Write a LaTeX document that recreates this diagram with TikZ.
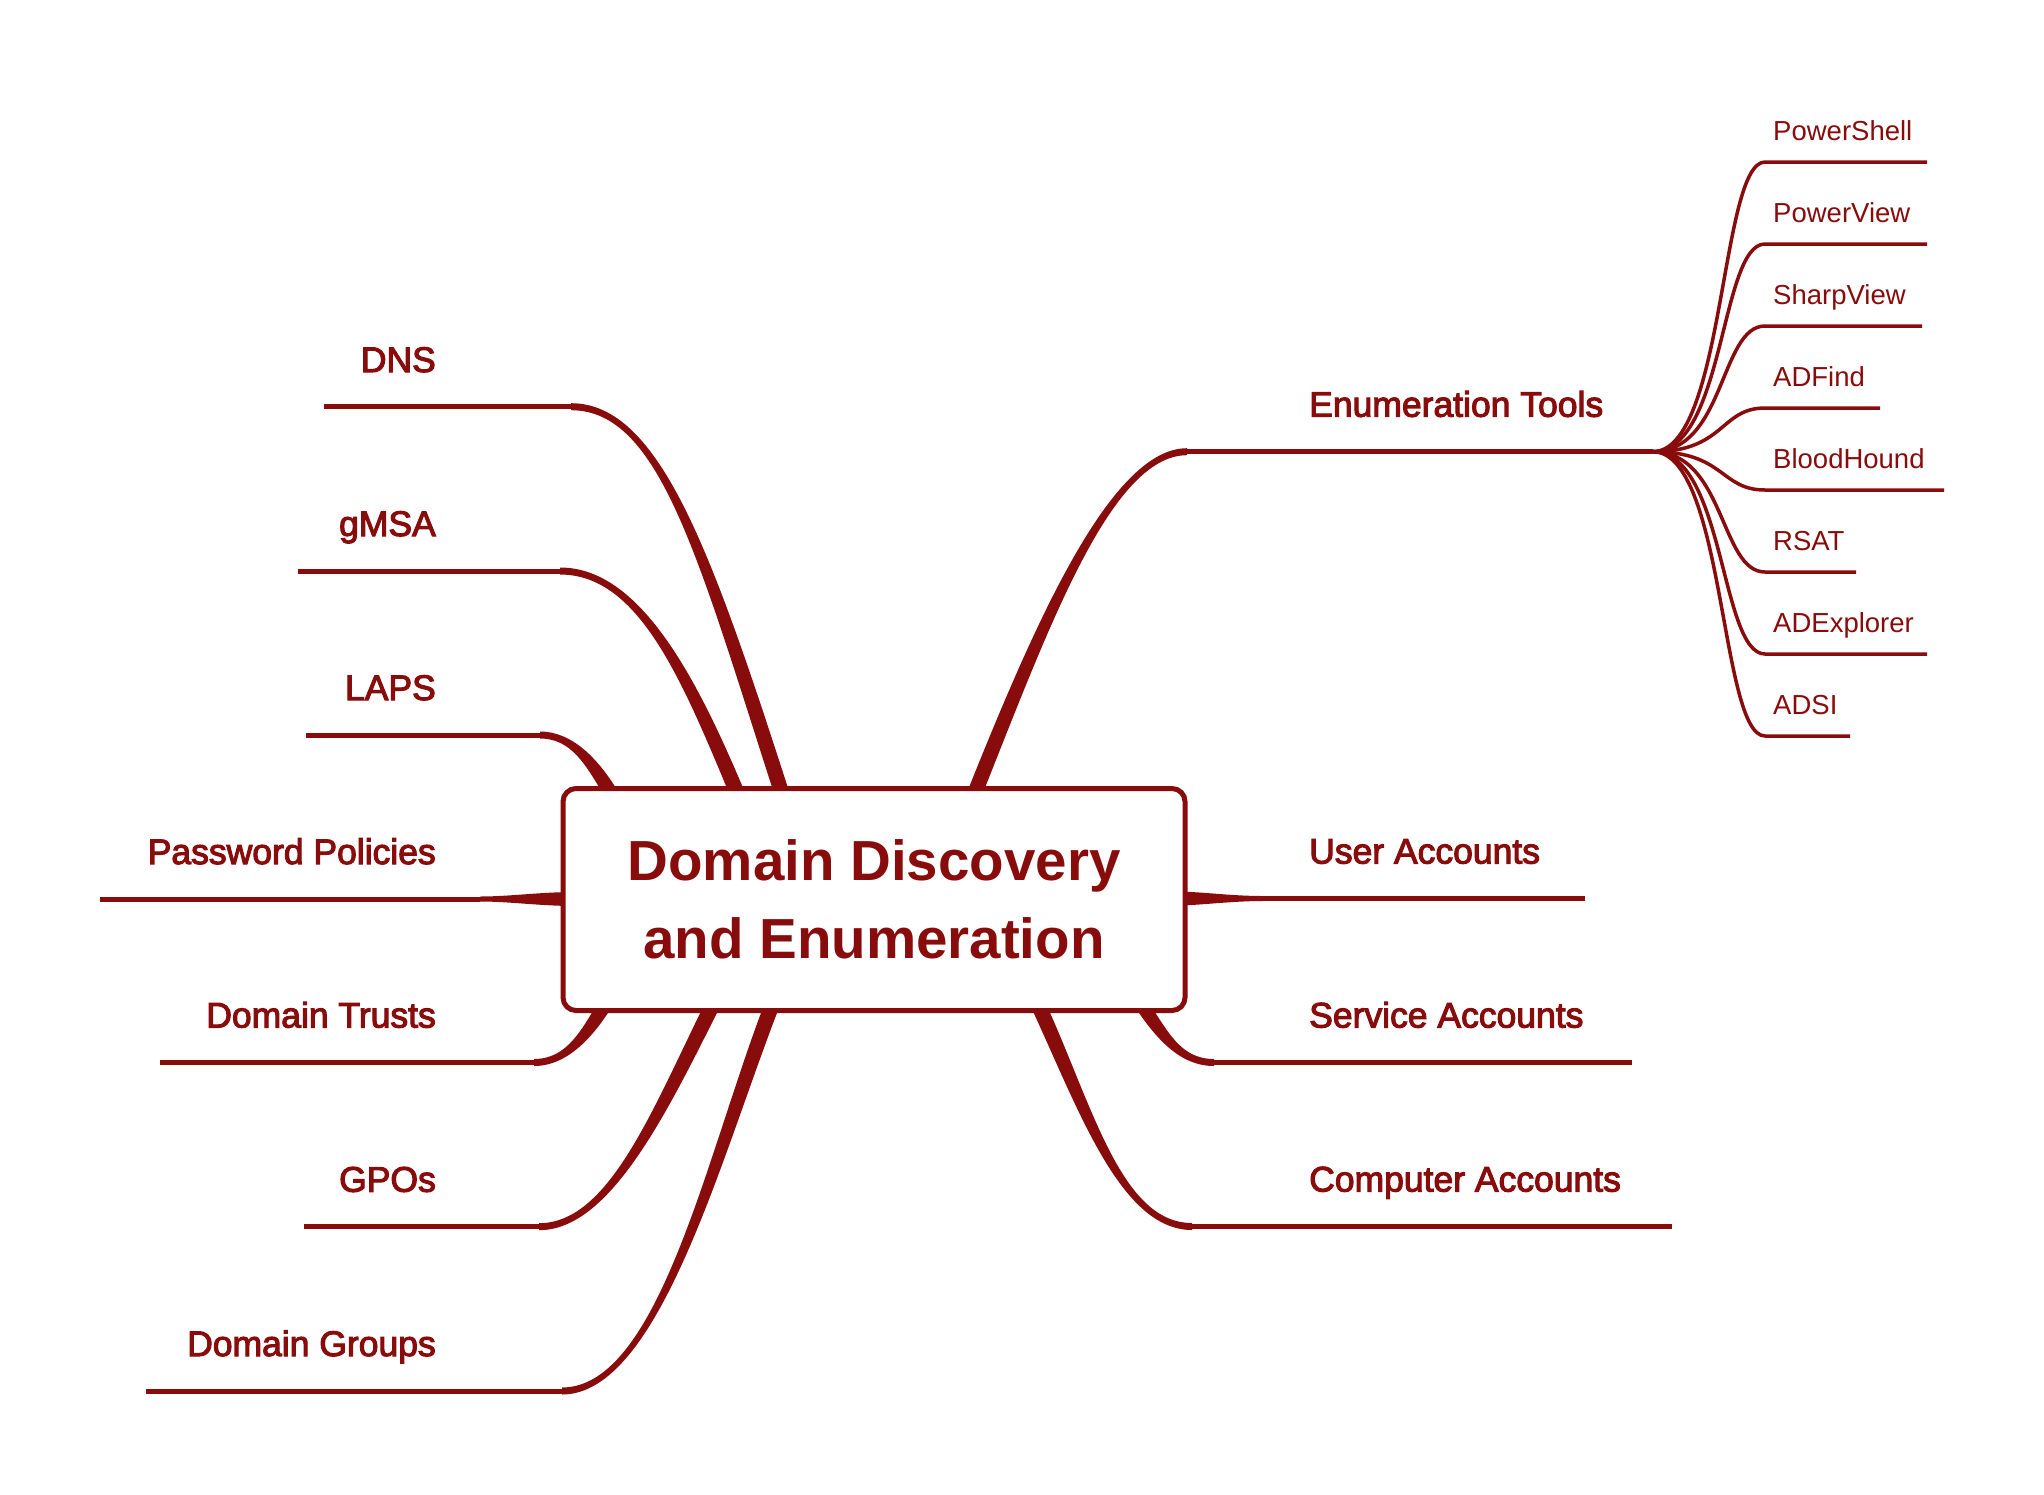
\documentclass[tikz,border=0pt]{standalone}
\usepackage{fontspec}
\setmainfont{Liberation Sans}
\newfontfamily\medfont{Liberation Sans}[FakeBold=3]
\usetikzlibrary{calc,backgrounds}
\definecolor{brc}{RGB}{137,12,12}
\tikzset{
  mainlbl/.style={text=brc, font=\medfont\fontsize{35.5}{42}\selectfont, inner sep=0},
  sublbl/.style={text=brc, font=\fontsize{27.5}{33}\selectfont, inner sep=0},
  mainline/.style={draw=brc, line width=5},
  subline/.style={draw=brc, line width=3.5, line join=round},
  rootbox/.style={draw=brc, line width=5, fill=white, rounded corners=13,
    minimum width=622, minimum height=222, inner sep=0, align=center, text=brc,
    font=\bfseries\fontsize{56.5}{78}\selectfont},
}
% tapered branch: #1 start, #2 control 1, #3 control 2, #4 end, #5 half width at start, #6 half width at end
\newcommand\taper[6]{%
  \fill[brc] ($(#1)!#5!90:(#2)$) .. controls ($(#2)!#5!-90:(#1)$) and ($(#3)!#6!90:(#4)$) .. ($(#4)!#6!-90:(#3)$)
    -- ($(#4)!#6!90:(#3)$) .. controls ($(#3)!#6!-90:(#4)$) and ($(#2)!#5!90:(#1)$) .. ($(#1)!#5!-90:(#2)$) -- cycle;}
\begin{document}
\begin{tikzpicture}[x=1pt,y=-1pt]
\useasboundingbox (0,0) rectangle (2044,1494);
% central topic
\node[rootbox] (root) at (874,899.5) {Domain Discovery\\and Enumeration};
% left branch coordinates
\coordinate (dnsL) at (323.5,406.7); \coordinate (dnsA) at (571,406.7); \coordinate (dnsP) at (784,800);
\coordinate (gmsaL) at (297.5,571); \coordinate (gmsaA) at (560,571); \coordinate (gmsaP) at (740,800);
\coordinate (lapsL) at (306,735); \coordinate (lapsA) at (540,735); \coordinate (lapsP) at (612,795);
\coordinate (ppL) at (100,899); \coordinate (ppA) at (480,899); \coordinate (ppP) at (575,899);
\coordinate (dtL) at (160,1062.5); \coordinate (dtA) at (534,1062.5); \coordinate (dtP) at (606,1003);
\coordinate (gpoL) at (304,1226.7); \coordinate (gpoA) at (539,1226.7); \coordinate (gpoP) at (715,1000);
\coordinate (dgL) at (146,1391); \coordinate (dgA) at (562,1391); \coordinate (dgP) at (774,1000);
% right branch coordinates
\coordinate (etA) at (1187,451.7); \coordinate (etR) at (1652.7,451.7); \coordinate (etP) at (972,800);
\coordinate (uaA) at (1263,898.5); \coordinate (uaR) at (1585,898.5); \coordinate (uaP) at (1175,898.5);
\coordinate (saA) at (1214,1062.5); \coordinate (saR) at (1631.7,1062.5); \coordinate (saP) at (1140,1002);
\coordinate (caA) at (1192,1226.5); \coordinate (caR) at (1672,1226.5); \coordinate (caP) at (1036,1000);
% labels
\node[mainlbl, anchor=base east] (dns) at (436,372) {DNS};
\node[mainlbl, anchor=base east] (gmsa) at (436,536) {gMSA};
\node[mainlbl, anchor=base east] (laps) at (436,700) {LAPS};
\node[mainlbl, anchor=base east] (pp) at (436,864) {Password Policies};
\node[mainlbl, anchor=base east] (dt) at (436,1027.5) {Domain Trusts};
\node[mainlbl, anchor=base east] (gpo) at (436,1191.7) {GPOs};
\node[mainlbl, anchor=base east] (dg) at (436,1356) {Domain Groups};
\node[mainlbl, anchor=base west] (et) at (1309,416.7) {Enumeration Tools};
\node[mainlbl, anchor=base west] (ua) at (1309,863.5) {User Accounts};
\node[mainlbl, anchor=base west] (sa) at (1309,1027.5) {Service Accounts};
\node[mainlbl, anchor=base west] (ca) at (1309,1191.5) {Computer Accounts};
\begin{pgfonlayer}{background}
\fill[white] (0,0) rectangle (2044,1494);
% left branches
\draw[mainline] (dnsL) -- (dnsA);  \taper{dnsA}{660,406.7}{705,555}{dnsP}{3.5pt}{7.5pt}
\draw[mainline] (gmsaL) -- (gmsaA); \taper{gmsaA}{640,571}{690,680}{gmsaP}{3.5pt}{7.5pt}
\draw[mainline] (lapsL) -- (lapsA); \taper{lapsA}{572,735}{592,762}{lapsP}{3.5pt}{7pt}
\draw[mainline] (ppL) -- (ppA);     \taper{ppA}{510,899}{540,899}{ppP}{2.5pt}{7pt}
\draw[mainline] (dtL) -- (dtA);     \taper{dtA}{568,1062.5}{588,1032}{dtP}{3.5pt}{7pt}
\draw[mainline] (gpoL) -- (gpoA);   \taper{gpoA}{610,1226.7}{660,1110}{gpoP}{3.5pt}{7.5pt}
\draw[mainline] (dgL) -- (dgA);     \taper{dgA}{660,1391}{715,1150}{dgP}{3.5pt}{7.5pt}
% right branches
\draw[mainline] (etA) -- (etR);     \taper{etA}{1110,451.7}{1040,630}{etP}{3.5pt}{7.5pt}
\draw[mainline] (uaA) -- (uaR);     \taper{uaA}{1230,898.5}{1200,898.5}{uaP}{2.5pt}{7pt}
\draw[mainline] (saA) -- (saR);     \taper{saA}{1180,1062.5}{1162,1035}{saP}{3.5pt}{7pt}
\draw[mainline] (caA) -- (caR);     \taper{caA}{1120,1226.5}{1085,1105}{caP}{3.5pt}{7.5pt}
\end{pgfonlayer}
% sub-branches of Enumeration Tools
\foreach \nm/\yy/\xe/\txt in {ps/162/1927/PowerShell, pv/244/1927/PowerView, sv/326/1922/SharpView,
  adf/408/1880/ADFind, bh/490/1944/BloodHound, rsat/572/1856/RSAT, adx/654/1927/ADExplorer, adsi/736/1850/ADSI}{
  \coordinate (\nm-a) at (1765,\yy);
  \coordinate (\nm-b) at (\xe,\yy);
  \node[sublbl, anchor=base west] (\nm) at (1773,\yy-22) {\txt};
  \draw[subline] (etR) .. controls (1725,451.7) and (1720,\yy) .. (\nm-a) -- (\nm-b);
}
\end{tikzpicture}
\end{document}
